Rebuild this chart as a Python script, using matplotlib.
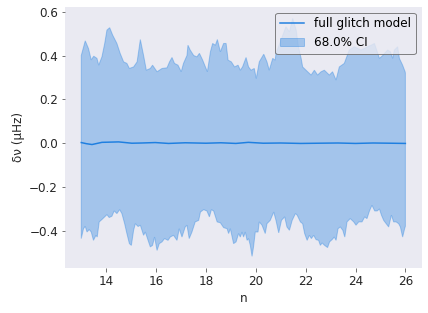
import numpy as np
import matplotlib
matplotlib.use("Agg")
import matplotlib.pyplot as plt

# upper edge of the 68% band
n_upper = [13.0, 13.16, 13.29, 13.4, 13.5, 13.63, 13.7, 13.83, 13.94, 14.03, 14.14, 14.26,
           14.43, 14.56, 14.7, 14.83, 14.93, 15.1, 15.24, 15.37, 15.5, 15.61, 15.77, 15.86,
           16.04, 16.24, 16.44, 16.54, 16.64, 16.74, 16.88, 17.01, 17.1, 17.24, 17.28, 17.37,
           17.51, 17.64, 17.74, 17.87, 17.98, 18.06, 18.18, 18.27, 18.38, 18.46, 18.58, 18.71,
           18.81, 18.89, 19.02, 19.15, 19.29, 19.38, 19.47, 19.61, 19.71, 19.81, 19.94, 20.02,
           20.14, 20.32, 20.45, 20.54, 20.68, 20.78, 20.81, 21.01, 21.21, 21.35, 21.48, 21.62,
           21.71, 21.82, 21.88, 22.08, 22.22, 22.35, 22.48, 22.62, 22.75, 22.95, 23.08, 23.22,
           23.35, 23.55, 23.75, 23.95, 24.22, 24.49, 24.63, 24.76, 24.96, 25.09, 25.29, 25.40,
           25.49, 25.56, 25.69, 25.76, 25.89, 25.99, 26.0]
ci_upper = [0.40, 0.467, 0.432, 0.38, 0.397, 0.387, 0.356, 0.394, 0.455, 0.516, 0.527, 0.493,
            0.455, 0.41, 0.371, 0.364, 0.341, 0.348, 0.371, 0.473, 0.40, 0.333, 0.341, 0.356,
            0.326, 0.341, 0.344, 0.371, 0.391, 0.364, 0.356, 0.326, 0.364, 0.40, 0.447, 0.425,
            0.40, 0.394, 0.41, 0.379, 0.348, 0.326, 0.417, 0.455, 0.447, 0.473, 0.417, 0.455,
            0.455, 0.379, 0.371, 0.348, 0.356, 0.333, 0.348, 0.391, 0.348, 0.333, 0.341, 0.295,
            0.371, 0.406, 0.371, 0.333, 0.387, 0.379, 0.41, 0.47, 0.531, 0.508, 0.569, 0.516,
            0.44, 0.387, 0.348, 0.326, 0.311, 0.333, 0.311, 0.326, 0.333, 0.311, 0.326, 0.288,
            0.348, 0.364, 0.425, 0.44, 0.425, 0.44, 0.447, 0.455, 0.387, 0.40, 0.425, 0.417,
            0.387, 0.425, 0.44, 0.387, 0.356, 0.326, 0.32]

# lower edge of the 68% band
n_lower = [13.0, 13.09, 13.16, 13.23, 13.32, 13.4, 13.49, 13.59, 13.64, 13.72, 13.83, 13.94,
           14.03, 14.12, 14.23, 14.32, 14.43, 14.54, 14.63, 14.74, 14.83, 14.93, 15.01, 15.1,
           15.17, 15.28, 15.37, 15.5, 15.57, 15.68, 15.77, 15.86, 15.94, 16.04, 16.13, 16.24,
           16.34, 16.48, 16.57, 16.7, 16.84, 16.93, 17.04, 17.17, 17.24, 17.33, 17.44, 17.57,
           17.71, 17.78, 17.91, 18.04, 18.14, 18.22, 18.31, 18.45, 18.58, 18.71, 18.85, 18.91,
           18.98, 19.11, 19.21, 19.31, 19.38, 19.45, 19.51, 19.58, 19.65, 19.71, 19.78, 19.85,
           19.91, 19.98, 20.09, 20.14, 20.25, 20.38, 20.45, 20.58, 20.72, 20.81, 20.92, 21.03,
           21.16, 21.25, 21.35, 21.46, 21.59, 21.66, 21.79, 21.88, 21.96, 22.06, 22.15, 22.23,
           22.32, 22.42, 22.52, 22.59, 22.66, 22.76, 22.88, 22.96, 23.06, 23.15, 23.22, 23.3,
           23.39, 23.49, 23.57, 23.66, 23.79, 23.93, 24.02, 24.13, 24.26, 24.37, 24.46, 24.56,
           24.66, 24.77, 24.87, 24.96, 25.04, 25.13, 25.23, 25.33, 25.44, 25.53, 25.63, 25.73,
           25.8, 25.89, 25.97, 26.0]
ci_lower = [-0.435, -0.39, -0.379, -0.405, -0.394, -0.405, -0.443, -0.42, -0.428, -0.359,
            -0.348, -0.336, -0.326, -0.339, -0.333, -0.309, -0.321, -0.303, -0.321, -0.367,
            -0.412, -0.458, -0.466, -0.397, -0.367, -0.38, -0.374, -0.42, -0.405, -0.443,
            -0.473, -0.466, -0.428, -0.489, -0.458, -0.45, -0.435, -0.443, -0.428, -0.42,
            -0.443, -0.39, -0.428, -0.382, -0.374, -0.435, -0.405, -0.359, -0.352, -0.314,
            -0.303, -0.309, -0.336, -0.303, -0.309, -0.359, -0.363, -0.385, -0.39, -0.412,
            -0.39, -0.458, -0.45, -0.412, -0.428, -0.405, -0.428, -0.405, -0.443, -0.435,
            -0.466, -0.516, -0.473, -0.405, -0.405, -0.359, -0.374, -0.412, -0.367, -0.352,
            -0.314, -0.352, -0.409, -0.352, -0.336, -0.382, -0.397, -0.352, -0.321, -0.328,
            -0.359, -0.367, -0.412, -0.443, -0.42, -0.435, -0.42, -0.44, -0.443, -0.466,
            -0.455, -0.466, -0.476, -0.45, -0.44, -0.428, -0.443, -0.39, -0.382, -0.397,
            -0.428, -0.359, -0.344, -0.359, -0.374, -0.359, -0.359, -0.336, -0.344, -0.309,
            -0.283, -0.309, -0.309, -0.3, -0.328, -0.352, -0.367, -0.382, -0.328, -0.359,
            -0.359, -0.367, -0.382, -0.428, -0.39, -0.379]

# median of the glitch model
n_model = [13.0, 13.2, 13.43, 13.83, 14.5, 15.03, 15.43, 15.97, 16.5, 17.17, 18.0, 18.6,
           19.2, 19.7, 20.3, 21.0, 21.8, 22.5, 23.3, 24.0, 24.7, 25.4, 26.0]
dnu_model = [0.003, -0.002, -0.006, 0.004, 0.006, 0.0, 0.001, 0.003, -0.001, 0.002, 0.0,
             0.002, -0.001, 0.004, 0.0, 0.001, -0.001, 0.0, 0.001, -0.001, 0.001, 0.0, -0.001]

plt.rcParams["font.family"] = "DejaVu Sans"
plt.rcParams["font.size"] = 12

fig = plt.figure(figsize=(428 / 72, 313 / 72), dpi=72)
ax = fig.add_axes([0.152, 0.143, 0.833, 0.836])
ax.set_facecolor("#EAEAF2")
for s in ax.spines.values():
    s.set_visible(False)

line_color = "#1f7fe0"
band_x = np.concatenate([n_upper, n_lower[::-1]])
band_y = np.concatenate([ci_upper, ci_lower[::-1]])
band = ax.fill(band_x, band_y, color=line_color, alpha=0.35, lw=1.0,
               label="68.0% CI")[0]
ln, = ax.plot(n_model, dnu_model, color=line_color, lw=1.5, label="full glitch model")

ax.set_xticks([14, 16, 18, 20, 22, 24, 26])
ax.set_yticks([-0.4, -0.2, 0.0, 0.2, 0.4, 0.6])
ax.tick_params(colors="#262626", length=3.5, width=0.8)
ax.tick_params(axis="both", color="#555555")
ax.set_xlabel("n", color="#262626")
ax.set_ylabel("δν (μHz)", color="#262626")

leg = ax.legend(handles=[ln, band], loc="upper right", facecolor="#EAEAF2",
                edgecolor="#666666", framealpha=0.8)
leg.get_frame().set_linewidth(1.0)

fig.savefig("out.png", dpi=72)
